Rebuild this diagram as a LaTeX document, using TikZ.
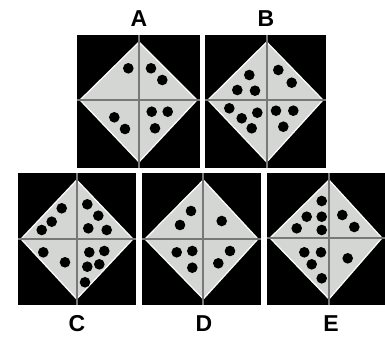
\documentclass[tikz,border=0pt]{standalone}
\usepackage{fontspec}
\setmainfont{Liberation Sans}
\definecolor{dia}{RGB}{212,214,212}
\definecolor{crossc}{RGB}{120,120,120}
\tikzset{
  cross/.style={draw=crossc, line width=1.8pt},
  diamondfill/.style={fill=dia, draw=white, line width=1.2pt},
  lbl/.style={font=\fontsize{23}{23}\selectfont\bfseries, inner sep=0pt},
}
% #1 left, #2 right, #3 top, #4 bottom, #5 cx, #6 cy, #7 dots
\def\Panel#1#2#3#4#5#6#7{%
  \fill[black] (#1,#3) rectangle (#2,#4);
  \filldraw[diamondfill] (#5,#3+7) -- (#2-3,#6) -- (#5,#4-6) -- (#1+3,#6) -- cycle;
  \draw[cross] (#1,#6) -- (#2,#6);
  \draw[cross] (#5,#3) -- (#5,#4);
  \foreach \a/\b in {#7} {\fill[black] (\a,\b) circle (5.3);}
}
\begin{document}
\begin{tikzpicture}[x=1pt,y=-1pt]
\useasboundingbox (0,0) rectangle (385,337);
\fill[white] (0,0) rectangle (385,337);
% A
\Panel{77}{200}{35}{168}{139}{100}{128.3/68.3, 151/68.3, 162.3/80, 114.3/117.3, 125/129, 151.7/111.7, 167.7/111.7, 155/128.3}
% B
\Panel{205}{326}{35}{168}{266.7}{100}{249.3/75, 237.3/90, 255/90.7, 278.3/70, 291.7/82.7, 229.3/108.3, 241.7/118.3, 257.3/112.7, 251.7/128.3, 276/110.7, 293.3/110.7, 283.3/126.7}
% C
\Panel{18}{136}{173}{305}{76.7}{239}{61.7/208.3, 51.7/221.7, 41.7/230, 87.3/204.3, 98.3/215.7, 88.3/228.3, 106.7/230, 43.3/252.3, 65/262.3, 89.3/252.3, 104.3/251, 99.3/264.3, 87.3/266.7, 85/282.3}
% D
\Panel{142}{261}{173}{305}{203.3}{239}{191/211, 180/225, 221.7/221, 176.7/252.3, 192.3/251, 192.3/267.7, 230/251, 218.3/263.3}
% E
\Panel{267}{385}{173}{305}{329}{238}{321.7/201, 306.7/216.7, 321.7/216.7, 296.7/228.3, 321.7/230, 342.3/215, 354.3/227, 304.3/252.3, 321/252.3, 311.7/264.3, 321.7/278.3, 347.7/258.3}
% labels
\node[lbl] (la) at (139,19) {A};
\node[lbl] (lb) at (266,19) {B};
\node[lbl] (lc) at (77,324) {C};
\node[lbl] (ld) at (204,324) {D};
\node[lbl] (le) at (331,324) {E};
\end{tikzpicture}
\end{document}
